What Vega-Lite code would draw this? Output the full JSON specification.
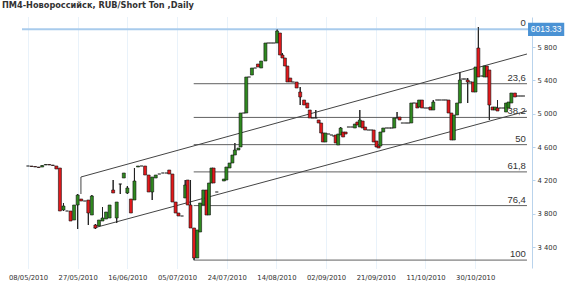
{
  "$schema": "https://vega.github.io/schema/vega-lite/v6.json",
  "width": 510,
  "height": 251,
  "autosize": "none",
  "padding": {"left": 22, "top": 17, "right": 38, "bottom": 18},
  "background": "white",
  "title": {"text": "ПМ4-Новороссийск,  RUB/Short Ton ,Daily", "anchor": "start", "frame": "group", "dx": -20, "offset": 7, "font": "DejaVu Sans", "fontSize": 8.2, "fontWeight": "bold", "color": "#333333"},
  "config": {"view": {"stroke": null}, "axis": {"title": null}},
  "datasets": {
    "bars": [
      {"t":0,"o":4372,"h":4372,"l":4372,"c":4372},
      {"t":1,"o":4372,"h":4372,"l":4366,"c":4366},
      {"t":2,"o":4366,"h":4366,"l":4360,"c":4360},
      {"t":3,"o":4360,"h":4360,"l":4354,"c":4354},
      {"t":4,"o":4360,"h":4378,"l":4360,"c":4378},
      {"t":5,"o":4384,"h":4390,"l":4384,"c":4390},
      {"t":6,"o":4390,"h":4390,"l":4384,"c":4384},
      {"t":7,"o":4384,"h":4384,"l":4378,"c":4378},
      {"t":8,"o":4372,"h":4372,"l":4336,"c":4336},
      {"t":9,"o":4348,"h":4348,"l":3832,"c":3832},
      {"t":10,"o":3844,"h":3928,"l":3832,"c":3892},
      {"t":11,"o":3832,"h":3832,"l":3832,"c":3832},
      {"t":12,"o":3832,"h":3832,"l":3712,"c":3712},
      {"t":13,"o":3724,"h":3904,"l":3724,"c":3904},
      {"t":14,"o":3904,"h":4036,"l":3616,"c":4024},
      {"t":15,"o":3976,"h":3976,"l":3952,"c":3952},
      {"t":16,"o":3952,"h":3952,"l":3952,"c":3952},
      {"t":17,"o":3964,"h":3964,"l":3664,"c":3808},
      {"t":18,"o":3784,"h":4024,"l":3784,"c":4012},
      {"t":19,"o":3664,"h":3676,"l":3616,"c":3628},
      {"t":20,"o":3652,"h":3724,"l":3652,"c":3724},
      {"t":21,"o":3712,"h":3880,"l":3712,"c":3748},
      {"t":22,"o":3736,"h":3820,"l":3736,"c":3820},
      {"t":23,"o":3748,"h":3904,"l":3748,"c":3904},
      {"t":24,"o":4084,"h":4204,"l":4048,"c":4048},
      {"t":25,"o":3748,"h":3940,"l":3688,"c":3940},
      {"t":26,"o":4156,"h":4156,"l":4036,"c":4156},
      {"t":27,"o":4228,"h":4288,"l":4228,"c":4288},
      {"t":28,"o":4048,"h":4132,"l":4036,"c":4108},
      {"t":29,"o":3976,"h":3976,"l":3808,"c":3808},
      {"t":30,"o":3964,"h":4348,"l":3964,"c":4192},
      {"t":31,"o":4360,"h":4372,"l":4360,"c":4372},
      {"t":32,"o":4372,"h":4372,"l":4372,"c":4372},
      {"t":33,"o":4372,"h":4372,"l":4264,"c":4264},
      {"t":34,"o":4264,"h":4264,"l":4060,"c":4060},
      {"t":35,"o":4060,"h":4240,"l":3964,"c":4240},
      {"t":36,"o":4228,"h":4264,"l":4228,"c":4264},
      {"t":37,"o":4276,"h":4276,"l":4276,"c":4276},
      {"t":38,"o":4288,"h":4288,"l":4288,"c":4288},
      {"t":39,"o":4288,"h":4288,"l":4288,"c":4288},
      {"t":39.8,"o":4324,"h":4324,"l":4276,"c":4276},
      {"t":40.7,"o":4276,"h":4276,"l":3940,"c":3940},
      {"t":41.6,"o":3940,"h":3940,"l":3808,"c":3808},
      {"t":42.4,"o":3808,"h":3808,"l":3772,"c":3772},
      {"t":43.4,"o":3772,"h":3772,"l":3772,"c":3772},
      {"t":44.3,"o":3988,"h":4204,"l":3988,"c":4144},
      {"t":45,"o":4204,"h":4204,"l":3904,"c":3904},
      {"t":45.8,"o":3904,"h":4204,"l":3628,"c":3628},
      {"t":46.8,"o":3628,"h":3628,"l":3243,"c":3268},
      {"t":47.7,"o":3268,"h":3604,"l":3268,"c":3604},
      {"t":48.5,"o":3580,"h":3928,"l":3580,"c":3928},
      {"t":49.4,"o":3904,"h":4084,"l":3904,"c":4084},
      {"t":50.3,"o":4084,"h":4084,"l":3784,"c":3784},
      {"t":51,"o":3784,"h":4168,"l":3784,"c":4168},
      {"t":51.7,"o":4168,"h":4348,"l":4168,"c":4348},
      {"t":52.3,"o":4348,"h":4348,"l":4168,"c":4168},
      {"t":53.2,"o":4060,"h":4060,"l":4060,"c":4060},
      {"t":55.2,"o":4192,"h":4216,"l":4192,"c":4216},
      {"t":55.9,"o":4204,"h":4360,"l":4204,"c":4360},
      {"t":56.8,"o":4348,"h":4408,"l":4348,"c":4408},
      {"t":57.6,"o":4408,"h":4504,"l":4408,"c":4504},
      {"t":58.3,"o":4504,"h":4648,"l":4504,"c":4564},
      {"t":59.3,"o":4564,"h":4588,"l":4564,"c":4588},
      {"t":59.9,"o":4600,"h":5008,"l":4600,"c":5008},
      {"t":60.8,"o":5008,"h":5008,"l":5008,"c":5008},
      {"t":61.5,"o":5008,"h":5440,"l":5008,"c":5440},
      {"t":62.3,"o":5440,"h":5440,"l":5440,"c":5440},
      {"t":63.1,"o":5464,"h":5548,"l":5464,"c":5548},
      {"t":64,"o":5548,"h":5548,"l":5548,"c":5548},
      {"t":64.8,"o":5596,"h":5596,"l":5560,"c":5560},
      {"t":65.7,"o":5548,"h":5632,"l":5548,"c":5632},
      {"t":66.9,"o":5632,"h":5848,"l":5632,"c":5848},
      {"t":67.7,"o":5848,"h":5848,"l":5848,"c":5848},
      {"t":68.5,"o":5848,"h":5848,"l":5848,"c":5848},
      {"t":69.3,"o":5848,"h":5848,"l":5848,"c":5848},
      {"t":70.2,"o":5848,"h":6013.33,"l":5848,"c":5992},
      {"t":71,"o":5968,"h":5968,"l":5704,"c":5704},
      {"t":71.7,"o":5704,"h":5728,"l":5668,"c":5668},
      {"t":72.4,"o":5668,"h":5668,"l":5572,"c":5572},
      {"t":73.1,"o":5572,"h":5572,"l":5380,"c":5380},
      {"t":73.9,"o":5428,"h":5428,"l":5380,"c":5380},
      {"t":74.7,"o":5380,"h":5380,"l":5380,"c":5380},
      {"t":75.7,"o":5380,"h":5380,"l":5308,"c":5308},
      {"t":76.7,"o":5260,"h":5320,"l":5104,"c":5200},
      {"t":77.8,"o":5164,"h":5164,"l":5104,"c":5104},
      {"t":78.7,"o":5128,"h":5128,"l":5068,"c":5068},
      {"t":79.4,"o":5044,"h":5044,"l":4948,"c":4948},
      {"t":80.2,"o":4948,"h":4948,"l":4948,"c":4948},
      {"t":81.1,"o":4948,"h":5044,"l":4948,"c":4948},
      {"t":81.9,"o":4924,"h":4924,"l":4888,"c":4888},
      {"t":82.6,"o":4888,"h":4888,"l":4768,"c":4768},
      {"t":83.1,"o":4768,"h":4768,"l":4660,"c":4660},
      {"t":83.8,"o":4660,"h":4768,"l":4660,"c":4768},
      {"t":84.7,"o":4756,"h":4756,"l":4756,"c":4756},
      {"t":85.5,"o":4744,"h":4744,"l":4744,"c":4744},
      {"t":86.2,"o":4732,"h":4732,"l":4732,"c":4732},
      {"t":86.7,"o":4744,"h":4744,"l":4648,"c":4648},
      {"t":87.4,"o":4624,"h":4756,"l":4624,"c":4756},
      {"t":88.1,"o":4744,"h":4840,"l":4744,"c":4828},
      {"t":88.8,"o":4780,"h":4780,"l":4720,"c":4720},
      {"t":89.5,"o":4780,"h":4780,"l":4756,"c":4756},
      {"t":90.3,"o":4840,"h":4840,"l":4840,"c":4840},
      {"t":91.2,"o":4840,"h":4840,"l":4840,"c":4840},
      {"t":92.1,"o":4828,"h":4876,"l":4828,"c":4876},
      {"t":92.8,"o":4900,"h":4900,"l":4864,"c":4864},
      {"t":93.5,"o":4840,"h":5044,"l":4840,"c":4924},
      {"t":94.3,"o":4912,"h":4912,"l":4828,"c":4828},
      {"t":95,"o":4840,"h":4840,"l":4804,"c":4804},
      {"t":95.9,"o":4804,"h":4804,"l":4804,"c":4804},
      {"t":96.7,"o":4804,"h":4804,"l":4804,"c":4804},
      {"t":97.4,"o":4804,"h":4804,"l":4660,"c":4660},
      {"t":98.2,"o":4672,"h":4672,"l":4600,"c":4600},
      {"t":98.8,"o":4612,"h":4612,"l":4588,"c":4588},
      {"t":99.3,"o":4612,"h":4780,"l":4612,"c":4780},
      {"t":100.1,"o":4780,"h":4828,"l":4780,"c":4828},
      {"t":101,"o":4828,"h":4828,"l":4828,"c":4828},
      {"t":101.8,"o":4828,"h":4828,"l":4828,"c":4828},
      {"t":102.5,"o":4828,"h":4828,"l":4828,"c":4828},
      {"t":103.2,"o":4828,"h":4948,"l":4828,"c":4948},
      {"t":104,"o":4948,"h":5020,"l":4948,"c":4948},
      {"t":104.7,"o":4960,"h":4960,"l":4924,"c":4924},
      {"t":105.5,"o":4888,"h":4888,"l":4888,"c":4888},
      {"t":106.4,"o":4888,"h":4888,"l":4888,"c":4888},
      {"t":107.2,"o":4888,"h":4888,"l":4888,"c":4888},
      {"t":108,"o":4888,"h":5128,"l":4888,"c":5128},
      {"t":108.8,"o":5128,"h":5128,"l":5128,"c":5128},
      {"t":109.7,"o":5128,"h":5128,"l":5068,"c":5068},
      {"t":110.2,"o":5080,"h":5164,"l":5080,"c":5164},
      {"t":111,"o":5164,"h":5164,"l":5068,"c":5068},
      {"t":111.9,"o":5068,"h":5068,"l":5068,"c":5068},
      {"t":112.7,"o":5068,"h":5068,"l":5068,"c":5068},
      {"t":113.4,"o":5080,"h":5080,"l":5044,"c":5044},
      {"t":114.2,"o":5044,"h":5164,"l":5044,"c":5140},
      {"t":115.2,"o":5164,"h":5164,"l":5164,"c":5164},
      {"t":116,"o":5164,"h":5164,"l":5164,"c":5164},
      {"t":116.9,"o":5164,"h":5164,"l":5164,"c":5164},
      {"t":117.7,"o":5164,"h":5164,"l":5164,"c":5164},
      {"t":118.5,"o":5164,"h":5164,"l":5008,"c":5008},
      {"t":119.3,"o":5008,"h":5008,"l":4684,"c":4684},
      {"t":120,"o":4684,"h":4984,"l":4684,"c":4984},
      {"t":120.9,"o":4984,"h":5128,"l":4984,"c":5128},
      {"t":121.7,"o":5128,"h":5500,"l":5128,"c":5404},
      {"t":122.5,"o":5416,"h":5416,"l":5416,"c":5416},
      {"t":123.2,"o":5416,"h":5416,"l":5416,"c":5416},
      {"t":123.9,"o":5404,"h":5428,"l":5128,"c":5380},
      {"t":124.7,"o":5380,"h":5380,"l":5380,"c":5380},
      {"t":125.4,"o":5380,"h":5380,"l":5260,"c":5260},
      {"t":126.1,"o":5260,"h":5560,"l":5260,"c":5560},
      {"t":126.9,"o":5788,"h":6040,"l":5440,"c":5440},
      {"t":127.9,"o":5452,"h":5452,"l":5452,"c":5452},
      {"t":128.6,"o":5440,"h":5572,"l":5440,"c":5572},
      {"t":129.3,"o":5572,"h":5572,"l":5440,"c":5440},
      {"t":130,"o":5524,"h":5524,"l":4924,"c":5104},
      {"t":130.9,"o":5080,"h":5080,"l":5044,"c":5044},
      {"t":131.6,"o":5044,"h":5080,"l":5044,"c":5080},
      {"t":132.3,"o":5068,"h":5164,"l":5032,"c":5032},
      {"t":133.1,"o":5068,"h":5068,"l":5068,"c":5068},
      {"t":134,"o":5068,"h":5068,"l":5068,"c":5068},
      {"t":134.7,"o":5020,"h":5128,"l":5020,"c":5128},
      {"t":135.4,"o":5068,"h":5140,"l":5068,"c":5140},
      {"t":136.2,"o":5128,"h":5248,"l":5128,"c":5248},
      {"t":137.2,"o":5248,"h":5248,"l":5200,"c":5200},
      {"t":138,"o":5212,"h":5212,"l":5212,"c":5212},
      {"t":138.8,"o":5212,"h":5212,"l":5212,"c":5212},
      {"t":139.6,"o":5212,"h":5212,"l":5212,"c":5212}
    ],
    "fib": [
      {"lvl":"0","v":6013.33},
      {"lvl":"23,6","v":5359.5},
      {"lvl":"38,2","v":4955},
      {"lvl":"50","v":4628.2},
      {"lvl":"61,8","v":4301.3},
      {"lvl":"76,4","v":3896.8},
      {"lvl":"100","v":3243}
    ],
    "chan": [
      {"seg":"upper","t0":14.92,"v0":4240,"t1":140.6,"v1":5716},
      {"seg":"lower","t0":18.5,"v0":3628,"t1":140.6,"v1":5032},
      {"seg":"anchor","t0":14.92,"v0":4240,"t1":14.92,"v1":4036}
    ],
    "last": [
      {"label":"6013.33","v":6013.33}
    ]
  },
  "layer": [
    {
      "data": {"name": "bars"},
      "mark": {"type": "rule", "color": "#222222", "strokeWidth": 1},
      "encoding": {
        "x": {"field": "t", "type": "quantitative",
          "scale": {"domain": [-0.276, 140.608], "nice": false, "zero": false},
          "axis": {"values": [0,14,28,42,56,70,84,98,112,126],
            "labelExpr": "['08/05/2010','27/05/2010','16/06/2010','05/07/2010','24/07/2010','14/08/2010','02/09/2010','21/09/2010','11/10/2010','30/10/2010'][round(datum.value/14)]",
            "grid": true, "gridColor": "#d3e4f4", "gridDash": [1,1], "ticks": false, "domain": false,
            "labelFont": "DejaVu Sans", "labelFontSize": 6.8, "labelColor": "#333333", "labelPadding": 6,
            "title": null, "labelFlush": false, "labelOverlap": false}},
        "y": {"field": "l", "type": "quantitative",
          "scale": {"domain": [3148, 6160], "nice": false, "zero": false},
          "axis": {"orient": "right", "values": [3400,3800,4200,4600,5000,5400,5800],
            "labelExpr": "replace(format(datum.value, ','), ',', ' ')",
            "grid": false, "ticks": true, "tickSize": 3, "tickColor": "#b9d3ec",
            "domain": true, "domainColor": "#b9d3ec",
            "labelFont": "DejaVu Sans", "labelFontSize": 6.8, "labelColor": "#333333", "labelPadding": 2,
            "title": null}},
        "y2": {"field": "h"}
      }
    },
    {
      "data": {"values": [{"v": 6013.33}]},
      "mark": {"type": "rule", "color": "#a8cbec", "strokeWidth": 2},
      "encoding": {"y": {"field": "v", "type": "quantitative"}}
    },
    {
      "data": {"name": "fib"},
      "transform": [{"filter": "datum.v < 6000"}],
      "mark": {"type": "rule", "color": "#606060", "strokeWidth": 1},
      "encoding": {
        "x": {"datum": 46.7, "type": "quantitative"},
        "x2": {"datum": 140.6},
        "y": {"field": "v", "type": "quantitative"}
      }
    },
    {
      "data": {"name": "chan"},
      "mark": {"type": "rule", "color": "#444444", "strokeWidth": 1},
      "encoding": {
        "x": {"field": "t0", "type": "quantitative"},
        "x2": {"field": "t1"},
        "y": {"field": "v0", "type": "quantitative"},
        "y2": {"field": "v1"}
      }
    },
    {
      "data": {"name": "bars"},
      "mark": {"type": "rule", "color": "#222222", "strokeWidth": 1},
      "encoding": {
        "x": {"field": "t", "type": "quantitative"},
        "y": {"field": "l", "type": "quantitative"},
        "y2": {"field": "h"}
      }
    },
    {
      "data": {"name": "bars"},
      "mark": {"type": "bar", "size": 3, "stroke": "#111111", "strokeWidth": 0.6},
      "encoding": {
        "x": {"field": "t", "type": "quantitative"},
        "y": {"field": "o", "type": "quantitative"},
        "y2": {"field": "c"},
        "fill": {"condition": {"test": "datum.c >= datum.o", "value": "#2f8a1f"}, "value": "#e3191c"}
      }
    },
    {
      "data": {"name": "fib"},
      "mark": {"type": "text", "align": "right", "baseline": "bottom", "dy": -1, "font": "Liberation Sans", "fontSize": 9.5, "color": "#333333"},
      "encoding": {
        "x": {"datum": 140.3, "type": "quantitative"},
        "y": {"field": "v", "type": "quantitative"},
        "text": {"field": "lvl"}
      }
    },
    {
      "data": {"name": "last"},
      "mark": {"type": "rect", "color": "#4a92d4"},
      "encoding": {
        "x": {"datum": 140.9, "type": "quantitative"},
        "x2": {"datum": 151.1},
        "y": {"datum": 5932, "type": "quantitative"},
        "y2": {"datum": 6090}
      }
    },
    {
      "data": {"name": "last"},
      "mark": {"type": "text", "align": "center", "baseline": "middle", "font": "Liberation Sans", "fontSize": 8.5, "color": "white"},
      "encoding": {
        "x": {"datum": 146, "type": "quantitative"},
        "y": {"field": "v", "type": "quantitative"},
        "text": {"field": "label"}
      }
    }
  ]
}
